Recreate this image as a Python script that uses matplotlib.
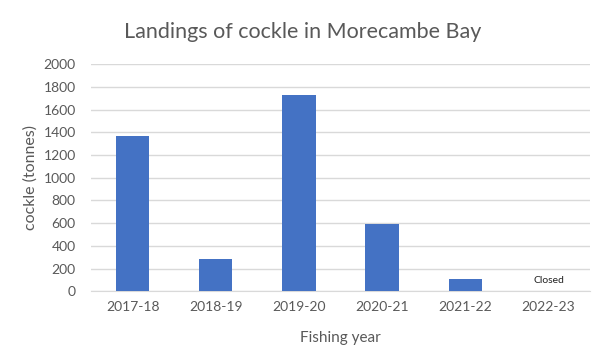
import matplotlib
matplotlib.use("Agg")
import matplotlib.pyplot as plt
import numpy as np

years = ["2017-18", "2018-19", "2019-20", "2020-21", "2021-22", "2022-23"]
landings = [1368, 282, 1728, 596, 108, 0]
closed_year = "2022-23"

plt.rcParams["font.family"] = ["Lato", "DejaVu Sans"]

fig = plt.figure(figsize=(5.93, 3.6), dpi=100)
ax = fig.add_axes([0.1535, 0.191, 0.8415, 0.631])

x = np.arange(len(years))
ax.bar(x, landings, width=0.4, color="#4472C4", zorder=3)

ax.set_xlim(-0.5, len(years) - 0.5)
ax.set_ylim(0, 2000)
ax.set_yticks(np.arange(0, 2001, 200))
ax.set_xticks(x)
ax.set_xticklabels(years)
ax.yaxis.grid(True, color="#d9d9d9", linewidth=1, zorder=0)
ax.tick_params(axis="both", length=0, labelsize=10, colors="#595959", pad=7)
ax.tick_params(axis="y", pad=11)
for s in ["top", "right", "left"]:
    ax.spines[s].set_visible(False)
ax.spines["bottom"].set_color("#d9d9d9")

ax.set_xlabel("Fishing year", fontsize=11, color="#595959", labelpad=13)
ax.set_ylabel("cockle (tonnes)", fontsize=11.5, color="#595959", labelpad=4)
fig.suptitle("Landings of cockle in Morecambe Bay", fontsize=15.5, color="#595959", y=0.94, x=0.51)

ci = years.index(closed_year)
ax.text(x[ci], 55, "Closed", ha="center", va="bottom", fontsize=7.5, color="#222222")

fig.savefig("out.png", dpi=100, facecolor="white")
